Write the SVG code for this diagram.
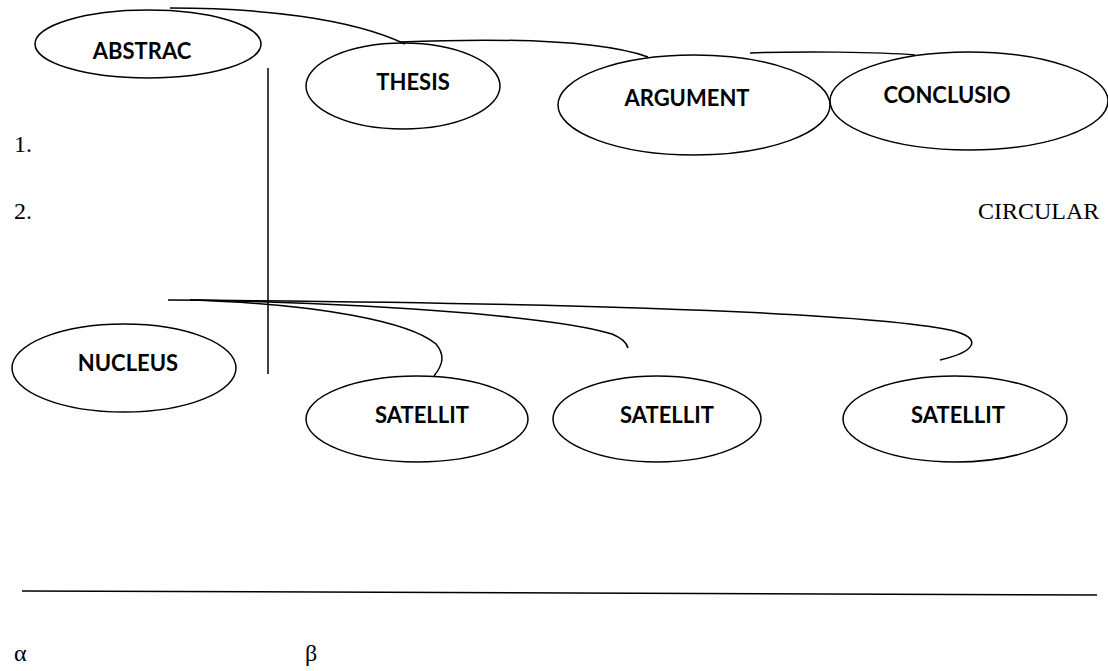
<svg xmlns="http://www.w3.org/2000/svg" width="1108" height="671" viewBox="0 0 1108 671">
<style>
.n ellipse{fill:#fff;stroke:#000;stroke-width:1.5}
.n text{font-family:Lato,"Open Sans",sans-serif;font-weight:bold;font-size:22px;text-anchor:middle;fill:#000}
.t{font-family:"Liberation Serif","Times New Roman",serif;font-size:24px;fill:#000}
.c path,.c line{fill:none;stroke:#000;stroke-width:1.5}
</style>
<rect width="1108" height="671" fill="#fff"/>
<g id="abstrac" class="n"><ellipse cx="148" cy="44" rx="113" ry="34"/><text x="142" y="59">ABSTRAC</text></g>
<g id="thesis" class="n"><ellipse cx="403" cy="86" rx="97" ry="43"/><text x="413" y="90">THESIS</text></g>
<g id="argument" class="n"><ellipse cx="694" cy="105" rx="136" ry="50"/><text x="687" y="106">ARGUMENT</text></g>
<g id="conclusio" class="n"><ellipse cx="969" cy="101" rx="139" ry="49"/><text x="947" y="103">CONCLUSIO</text></g>
<g id="nucleus" class="n"><ellipse cx="124" cy="368" rx="112" ry="44"/><text x="128" y="371">NUCLEUS</text></g>
<g id="satellit1" class="n"><ellipse cx="417" cy="419" rx="111" ry="43"/><text x="422" y="423">SATELLIT</text></g>
<g id="satellit2" class="n"><ellipse cx="657" cy="419" rx="104" ry="43"/><text x="667" y="423">SATELLIT</text></g>
<g id="satellit3" class="n"><ellipse cx="955" cy="419" rx="112" ry="43"/><text x="958" y="423">SATELLIT</text></g>
<g id="connectors" class="c">
<path d="M170,8 C260,8 350,18 405,44"/>
<path d="M400,42 C500,38 600,40 648,57"/>
<path d="M750,53 C800,51 880,52 915,55"/>
<line x1="268" y1="68" x2="268" y2="374"/>
<path d="M168,300 C500,302 850,310 950,330 C985,338 975,352 940,360"/>
<path d="M190,300 C400,304 560,318 612,334 C624,339 627,344 628,348"/>
<path d="M190,300 C320,304 410,322 436,344 C446,356 442,366 434,376"/>
<line x1="22" y1="591" x2="1097" y2="595"/>
</g>
<text class="t" x="14" y="152">1.</text>
<text class="t" x="14" y="219">2.</text>
<text class="t" x="978" y="219">CIRCULAR</text>
<text class="t" x="14" y="661">α</text>
<text class="t" x="305" y="661">β</text>
</svg>
